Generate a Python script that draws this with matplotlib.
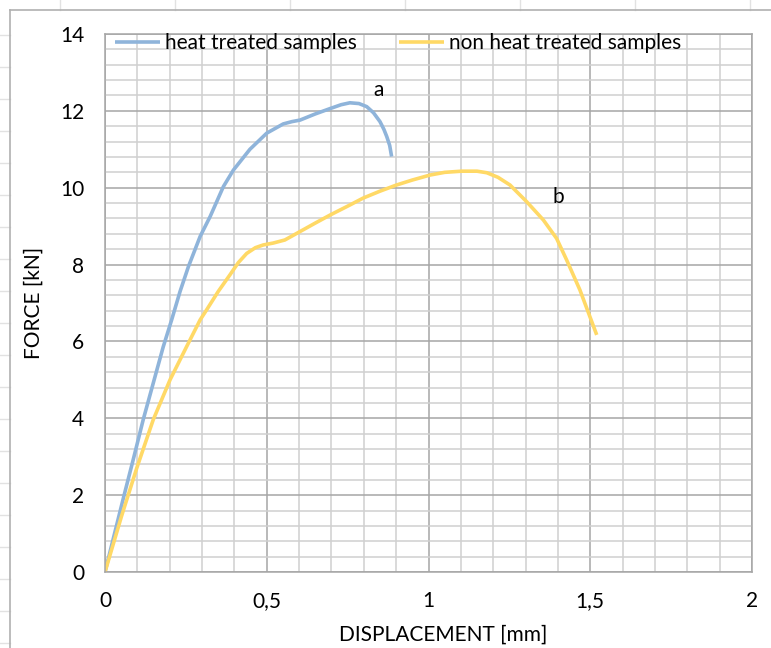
import matplotlib

matplotlib.use("Agg")
import matplotlib.pyplot as plt
from matplotlib.lines import Line2D
from matplotlib.ticker import MultipleLocator

plt.rcParams["font.family"] = ["Lato", "DejaVu Sans"]

# heat treated samples (curve a)
heat_x = [0, 0.057, 0.088, 0.118, 0.149, 0.180, 0.206, 0.232, 0.258, 0.294, 0.325,
          0.366, 0.397, 0.448, 0.50, 0.551, 0.578, 0.603, 0.65, 0.696, 0.73,
          0.757, 0.785, 0.809, 0.83, 0.850, 0.862, 0.871, 0.88, 0.886]
heat_y = [0, 1.93, 2.95, 3.96, 4.91, 5.86, 6.56, 7.3, 7.95, 8.73, 9.25,
          10.03, 10.46, 11.0, 11.42, 11.66, 11.72, 11.76, 11.92, 12.06, 12.16,
          12.21, 12.19, 12.11, 11.95, 11.72, 11.52, 11.33, 11.1, 10.81]

# non heat treated samples (curve b)
non_x = [0, 0.051, 0.098, 0.149, 0.201, 0.252, 0.294, 0.314, 0.35, 0.386, 0.412,
         0.438, 0.465, 0.489, 0.52, 0.556, 0.603, 0.65, 0.696, 0.75, 0.798,
         0.85, 0.901, 0.95, 1.005, 1.05, 1.102, 1.15, 1.18, 1.215, 1.252,
         1.303, 1.355, 1.396, 1.427, 1.468, 1.520]
non_y = [0, 1.45, 2.7, 3.96, 5.0, 5.86, 6.56, 6.82, 7.3, 7.73, 8.05,
         8.29, 8.44, 8.51, 8.56, 8.64, 8.86, 9.08, 9.29, 9.52, 9.73,
         9.91, 10.07, 10.2, 10.33, 10.4, 10.43, 10.43, 10.39, 10.27, 10.07,
         9.64, 9.16, 8.68, 8.12, 7.34, 6.17]

x_ticks = [0, 0.5, 1, 1.5, 2]
x_tick_labels = ["0", "0,5", "1", "1,5", "2"]
y_ticks = [0, 2, 4, 6, 8, 10, 12, 14]

W, H = 771, 648
fig = plt.figure(figsize=(W / 100, H / 100), dpi=100)
ax = fig.add_axes([105 / W, 1 - 572 / H, (752 - 105) / W, (572 - 34) / H])

# spreadsheet background behind the chart
for px in [60, 175, 290, 405, 520, 635, 750]:
    fig.add_artist(Line2D([px / W, px / W], [1 - 10 / H, 1], color="#e2e2e2", lw=1))
for py in range(35, 648, 32):
    fig.add_artist(Line2D([0, 10 / W], [1 - py / H, 1 - py / H], color="#e2e2e2", lw=1))
fig.add_artist(Line2D([10 / W, 10 / W], [0, 1 - 10 / H], color="#b0b0b0", lw=1.2))
fig.add_artist(Line2D([10 / W, 1], [1 - 10 / H, 1 - 10 / H], color="#b0b0b0", lw=1.2))

ax.plot(heat_x, heat_y, color="#8fb4da", lw=2.6, label="heat treated samples",
        solid_capstyle="butt", solid_joinstyle="round")
ax.plot(non_x, non_y, color="#ffd966", lw=2.6, label="non heat treated samples",
        solid_capstyle="butt", solid_joinstyle="round")

ax.set_xlim(0, 2)
ax.set_ylim(0, 14)
ax.set_xticks(x_ticks)
ax.set_xticklabels(x_tick_labels)
ax.set_yticks(y_ticks)
ax.xaxis.set_minor_locator(MultipleLocator(0.1))
ax.yaxis.set_minor_locator(MultipleLocator(0.4))
ax.grid(which="major", color="#a6a6a6", lw=1.1)
ax.grid(which="minor", color="#d0d0d0", lw=1.1)
ax.set_axisbelow(True)
for spine in ax.spines.values():
    spine.set_color("#a6a6a6")
    spine.set_linewidth(1.1)
ax.tick_params(which="both", length=0)
ax.tick_params(axis="x", pad=14, labelsize=15)
ax.tick_params(axis="y", pad=15, labelsize=15)

ax.set_xlabel("DISPLACEMENT [mm]", fontsize=15)
ax.set_ylabel("FORCE [kN]", fontsize=15)
ax.xaxis.set_label_coords(0.522, -0.097)
ax.yaxis.set_label_coords(-0.095, 0.5)

ax.text(0.845, 12.55, "a", fontsize=15, ha="center", va="center")
ax.text(1.40, 9.75, "b", fontsize=15, ha="center", va="center")

ax.legend(loc="upper left", bbox_to_anchor=(-0.004, 1.025), ncol=2, frameon=False,
          fontsize=15, handlelength=2.15, handletextpad=0.25, columnspacing=2.05,
          borderaxespad=0.2)

fig.savefig("out.png", dpi=100)
